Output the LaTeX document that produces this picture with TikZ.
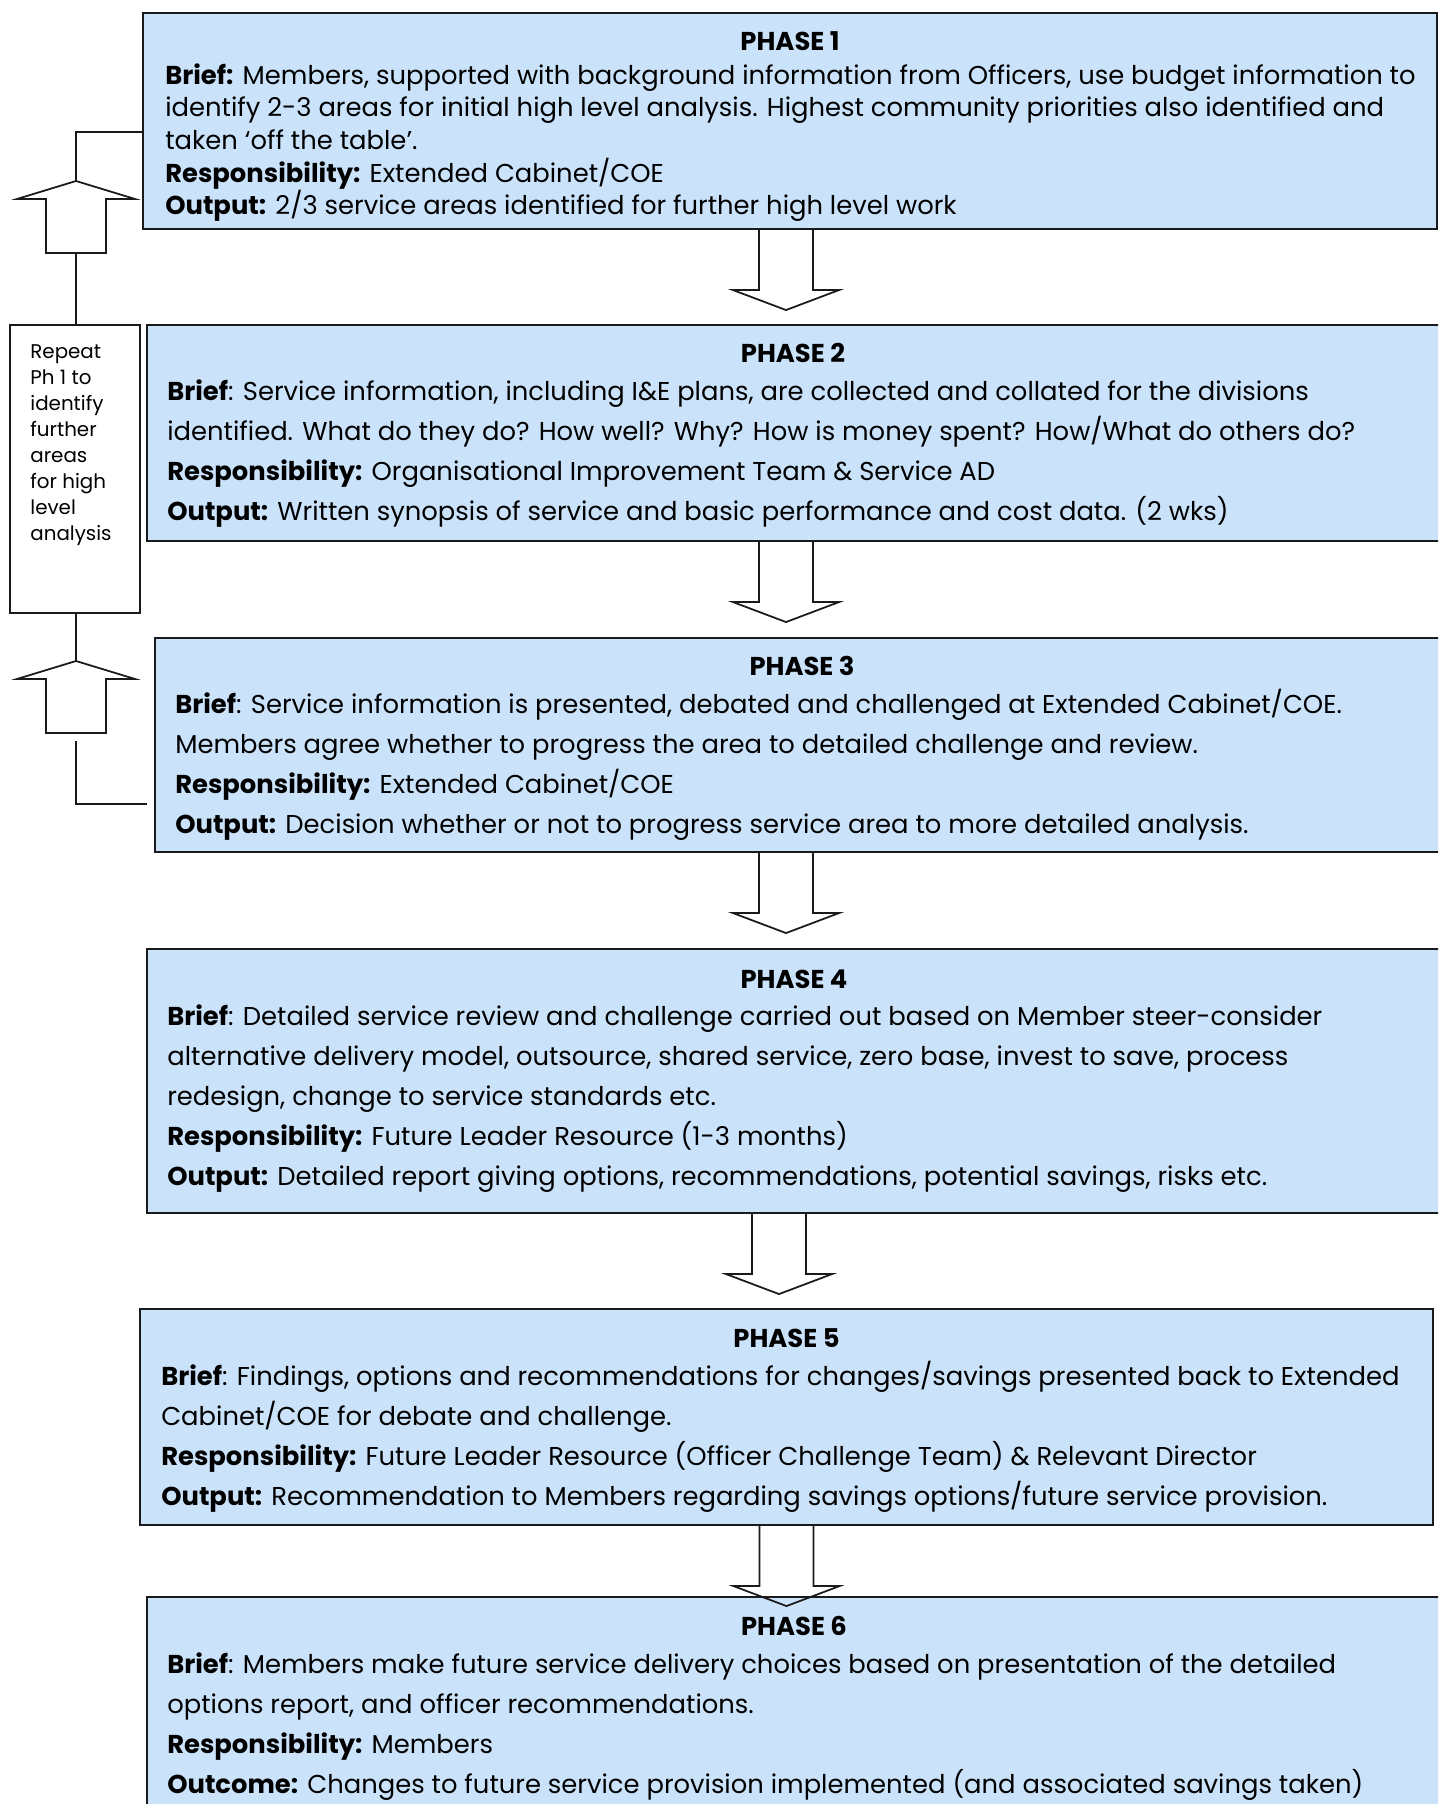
\documentclass[tikz,border=0pt]{standalone}
\usepackage{fontspec}
\setmainfont{Poppins}
\usepackage{tikz}
\usetikzlibrary{calc,fit,positioning}
\definecolor{phaseblue}{HTML}{CAE3FB}
\definecolor{edge}{HTML}{1A1A1A}
\newcommand{\phasefont}{\fontsize{14.7}{22.8}\selectfont}
\newcommand{\firstfont}{\fontsize{14.7}{18.6}\selectfont}
\newcommand{\repeatfont}{\fontsize{11.3}{14.8}\selectfont}

\tikzset{
  downarrow/.pic={
    \draw[blockline] (-27,0) -- (-27,60) -- (-53,60) -- (0,80) -- (53,60) -- (27,60) -- (27,0);
  },
  uparrow/.pic={
    \draw[blockline] (0,0) -- (59,18) -- (30,18) -- (30,72) -- (-30,72) -- (-30,18) -- (-59,18) -- cycle;
    \coordinate (-tip) at (0,0);
    \coordinate (-base) at (0,72);
  }
}

\begin{document}
\begin{tikzpicture}[x=0.02cm, y=-0.02cm,
    phase/.style={rectangle, draw=edge, line width=1.2pt, fill=phaseblue, inner sep=0pt},
    repeatbox/.style={rectangle, draw=edge, line width=1.1pt, fill=white, inner sep=0pt},
    phasetitle/.style={font=\phasefont\bfseries, inner sep=0pt, anchor=base},
    phasetext/.style={font=\phasefont, align=left, inner sep=0pt, anchor=base west},
    link/.style={draw=edge, line width=1pt},
    blockline/.style={draw=edge, line width=1pt, line join=miter}
]
    % Page frame
    \clip (0,0) rectangle (1438,1804);

    % Phase boxes
    \node[phase, fit={(143,13) (1437,229)}] (ph1) {};
    \node[phase, fit={(147,325) (1445,541)}] (ph2) {};
    \node[phase, fit={(155,638) (1449,852)}] (ph3) {};
    \node[phase, fit={(147,949) (1441,1213)}] (ph4) {};
    \node[phase, fit={(140,1309) (1433,1525)}] (ph5) {};
    \node[phase, fit={(147,1597) (1441,1840)}] (ph6) {};

    % Titles
    \node[phasetitle] (t1) at ($(ph1.north)+(0,39)$) {PHASE 1};
    \node[phasetitle] (t2) at ($(ph2.north)+(-3,39)$) {PHASE 2};
    \node[phasetitle] (t3) at ($(ph3.north)+(0,39)$) {PHASE 3};
    \node[phasetitle] (t4) at ($(ph4.north)+(0,41)$) {PHASE 4};
    \node[phasetitle] (t5) at ($(ph5.north)+(0,40)$) {PHASE 5};
    \node[phasetitle] (t6) at ($(ph6.north)+(0,40)$) {PHASE 6};

    % Texts (anchored on the last line)
    \node[phasetext, font=\firstfont] (b1) at ($(ph1.north west)+(23,203)$)
        {\textbf{Brief:} Members, supported with background information from Officers, use budget information to\\
         identify 2-3 areas for initial high level analysis. Highest community priorities also identified and\\
         taken ‘off the table’.\\
         \textbf{Responsibility:} Extended Cabinet/COE\\
         \textbf{Output:} 2/3 service areas identified for further high level work};
    \node[phasetext] (b2) at ($(ph2.north west)+(21,197)$)
        {\textbf{Brief}: Service information, including I\&E plans, are collected and collated for the divisions\\
         identified. What do they do? How well? Why? How is money spent? How/What do others do?\\
         \textbf{Responsibility:} Organisational Improvement Team \& Service AD\\
         \textbf{Output:} Written synopsis of service and basic performance and cost data. (2 wks)};
    \node[phasetext] (b3) at ($(ph3.north west)+(21,197)$)
        {\textbf{Brief}: Service information is presented, debated and challenged at Extended Cabinet/COE.\\
         Members agree whether to progress the area to detailed challenge and review.\\
         \textbf{Responsibility:} Extended Cabinet/COE\\
         \textbf{Output:} Decision whether or not to progress service area to more detailed analysis.};
    \node[phasetext] (b4) at ($(ph4.north west)+(21,238)$)
        {\textbf{Brief}: Detailed service review and challenge carried out based on Member steer-consider\\
         alternative delivery model, outsource, shared service, zero base, invest to save, process\\
         redesign, change to service standards etc.\\
         \textbf{Responsibility:} Future Leader Resource (1-3 months)\\
         \textbf{Output:} Detailed report giving options, recommendations, potential savings, risks etc.};
    \node[phasetext] (b5) at ($(ph5.north west)+(22,198)$)
        {\textbf{Brief}: Findings, options and recommendations for changes/savings presented back to Extended\\
         Cabinet/COE for debate and challenge.\\
         \textbf{Responsibility:} Future Leader Resource (Officer Challenge Team) \& Relevant Director\\
         \textbf{Output:} Recommendation to Members regarding savings options/future service provision.};
    \node[phasetext] (b6) at ($(ph6.north west)+(21,198)$)
        {\textbf{Brief}: Members make future service delivery choices based on presentation of the detailed\\
         options report, and officer recommendations.\\
         \textbf{Responsibility:} Members\\
         \textbf{Outcome:} Changes to future service provision implemented (and associated savings taken)};

    % Block arrows between phases
    \pic at ($(ph1.south)+(-4,0)$) {downarrow};
    \pic at ($(ph2.south)+(-10,0)$) {downarrow};
    \pic at ($(ph3.south)+(-16,0)$) {downarrow};
    \pic at ($(ph4.south)+(-15,0)$) {downarrow};
    \pic at ($(ph5.south)+(0,0)$) {downarrow};

    % Repeat loop
    \node[repeatbox, fit={(10,325) (140,613)}] (rep) {};
    \node[font=\repeatfont, align=left, inner sep=0pt, anchor=base west] (reptxt) at ($(rep.north west)+(21,216)$)
        {Repeat\\Ph 1 to\\identify\\further\\areas\\for high\\level\\analysis};
    \pic (up1) at (76,181) {uparrow};
    \pic (up2) at (76,661) {uparrow};
    \draw[link] ($(ph1.north west)+(0,120)$) -| (up1-tip);
    \draw[link] (up1-base) -- (up1-base |- rep.north);
    \draw[link] (up2-tip |- rep.south) -- (up2-tip);
    \draw[link] ($(up2-base)+(0,8)$) |- ($(ph3.north west)+(-7,167)$);

\end{tikzpicture}
\end{document}
